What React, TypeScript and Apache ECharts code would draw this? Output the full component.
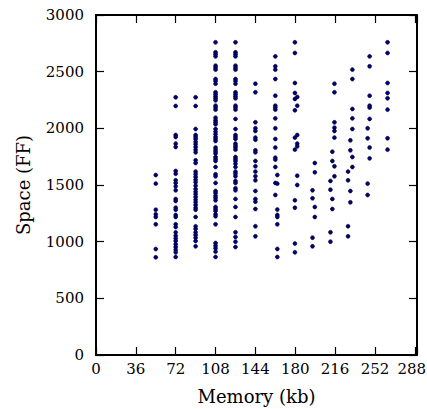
import React, { useEffect, useRef } from "react";
import * as echarts from "echarts";

// Memory (kb) positions and Space (FF) values
const xTicks = [0, 36, 72, 108, 144, 180, 216, 252, 288];
const yTicks = [0, 500, 1000, 1500, 2000, 2500, 3000];

const mem54 = 54;
const space54 = [1588, 1512, 1282, 1241, 1218, 1153, 935, 862];
const mem72 = 72;
const space72 = [2274, 2197, 1941, 1924, 1865, 1835, 1624, 1600, 1541, 1518, 1488, 1453, 1376, 1359, 1300, 1282, 1235, 1218, 1153, 1129, 1082, 1053, 1029, 1006, 977, 953, 929, 906, 865];
const mem90 = 90;
const space90 = [2274, 2197, 1994, 1941, 1924, 1906, 1882, 1859, 1835, 1812, 1788, 1718, 1694, 1618, 1594, 1571, 1547, 1524, 1494, 1465, 1441, 1418, 1394, 1371, 1347, 1324, 1300, 1282, 1218, 1135, 1112, 1082, 1059, 1035, 1006, 959];
const mem108 = 108;
const space108 = [2759, 2671, 2653, 2635, 2553, 2535, 2518, 2435, 2418, 2394, 2318, 2300, 2282, 2265, 2247, 2200, 2183, 2165, 2094, 2071, 2053, 2036, 1994, 1971, 1947, 1924, 1906, 1888, 1830, 1812, 1794, 1777, 1747, 1730, 1712, 1659, 1594, 1577, 1518, 1447, 1430, 1406, 1388, 1365, 1306, 1289, 1271, 1241, 1224, 1153, 988, 965, 941, 912, 865];
const mem126 = 126;
const space126 = [2759, 2671, 2653, 2635, 2553, 2535, 2518, 2435, 2418, 2394, 2318, 2300, 2282, 2265, 2200, 2183, 2165, 2083, 1994, 1941, 1924, 1906, 1865, 1847, 1830, 1812, 1747, 1730, 1712, 1688, 1659, 1618, 1600, 1577, 1536, 1518, 1471, 1453, 1377, 1306, 1218, 1083, 1041, 1000, 953];
const mem144 = 144;
const space144 = [2394, 2318, 2053, 2000, 1977, 1918, 1900, 1806, 1788, 1712, 1665, 1618, 1577, 1541, 1447, 1377, 1353, 1288, 1136, 1047];
const mem162a = 162;
const space162a = [2635, 2547, 2518, 2435, 2288, 2200, 2183, 2165, 2088, 2000, 1906, 1830, 1741, 1724, 1659, 1518, 1412];
const mem162b = 163.8;
const space162b = [1588, 1512, 1283, 1236, 1218, 1153, 936, 865];
const mem180a = 179.7;
const space180a = [2759, 2665, 2400, 2312, 2259, 2159, 1918, 1812, 1365, 1300, 983, 906];
const mem180b = 181.8;
const space180b = [2277, 2200, 1941, 1865, 1841, 1582, 1500];
const mem198a = 197.7;
const space198a = [1694, 1612, 1306, 1218];
const mem198b = 195.6;
const space198b = [1453, 1383, 1035, 959];
const mem216a = 215.4;
const space216a = [2394, 2318, 2053, 2006, 1977, 1918, 1665, 1577];
const mem216b = 213.5;
const space216b = [1794, 1712, 1377, 1288];
const mem216c = 211.8;
const space216c = [1536, 1459, 1083, 1000];
const mem234a = 231.6;
const space234a = [2518, 2435, 2171, 2088, 1994, 1747, 1659];
const mem234b = 229.8;
const space234b = [1894, 1806, 1447, 1347];
const mem234c = 227.7;
const space234c = [1618, 1541, 1136, 1047];
const mem252a = 247.2;
const space252a = [2635, 2547, 2288, 2200, 2183, 2083, 1830, 1735];
const mem252b = 245.4;
const space252b = [2000, 1912, 1512, 1412];
const mem270 = 263.4;
const space270 = [2759, 2665, 2400, 2312, 2265, 2165, 1912, 1812];

const columns: [number, number[]][] = [
  [mem54, space54], [mem72, space72], [mem90, space90], [mem108, space108],
  [mem126, space126], [mem144, space144], [mem162a, space162a], [mem162b, space162b],
  [mem180a, space180a], [mem180b, space180b], [mem198a, space198a], [mem198b, space198b],
  [mem216a, space216a], [mem216b, space216b], [mem216c, space216c],
  [mem234a, space234a], [mem234b, space234b], [mem234c, space234c],
  [mem252a, space252a], [mem252b, space252b], [mem270, space270],
];

const FONT = "DejaVu Serif";

export default function App() {
  const ref = useRef<HTMLDivElement>(null);
  useEffect(() => {
    if (!ref.current) return;
    const chart = echarts.init(ref.current, null, { renderer: "svg" });
    const points: number[][] = [];
    columns.forEach(([x, ys]) => ys.forEach((y) => points.push([x, y])));
    const line = { show: true, onZero: false, lineStyle: { color: "#000", width: 2 } };
    const tick = {
      show: true, inside: true, length: 8, lineStyle: { color: "#000", width: 1.2 },
    };
    const lastX = xTicks[xTicks.length - 1];
    const xBase = {
      type: "value", min: 0, max: 290, interval: 36, splitLine: { show: false },
      axisLine: line,
      axisTick: { ...tick, interval: (_i: number, v: number) => xTicks.includes(Number(v)) },
    };
    const yBase = {
      type: "value", min: 0, max: 3000, interval: 500, splitLine: { show: false },
      axisLine: line, axisTick: tick,
    };
    chart.setOption({
      animation: false,
      backgroundColor: "#fff",
      grid: {
        left: 96, right: 10, top: 15, bottom: 54,
        containLabel: false, outerBoundsMode: "none",
      },
      xAxis: [
        {
          ...xBase,
          position: "bottom",
          name: "Memory (kb)",
          nameLocation: "middle",
          nameGap: 32,
          nameTextStyle: { fontFamily: FONT, fontSize: 18, color: "#000" },
          axisLabel: {
            fontFamily: FONT, fontSize: 15, color: "#000", margin: 6,
            formatter: (v: number) =>
              v === lastX ? "{last|" + v + "}" : xTicks.includes(v) ? String(v) : "",
            rich: {
              last: { fontFamily: FONT, fontSize: 15, color: "#000", padding: [0, 6, 0, 0] },
            },
          },
        },
        { ...xBase, position: "top", axisLabel: { show: false } },
      ],
      yAxis: [
        {
          ...yBase,
          position: "left",
          name: "Space (FF)",
          nameLocation: "middle",
          nameGap: 64,
          nameTextStyle: { fontFamily: FONT, fontSize: 18, color: "#000" },
          axisLabel: {
            fontFamily: FONT, fontSize: 15, color: "#000", margin: 12,
            formatter: (v: number) => (yTicks.includes(v) ? String(v) : ""),
          },
        },
        { ...yBase, position: "right", axisLabel: { show: false } },
      ],
      series: [
        {
          type: "scatter",
          data: points,
          symbolSize: 4,
          itemStyle: { color: "#00007a", borderColor: "#000", borderWidth: 0.5, opacity: 1 },
        },
      ],
    });
    return () => chart.dispose();
  }, []);
  return <div ref={ref} style={{ position: "fixed", left: 0, top: 0, width: 427, height: 409 }} />;
}
